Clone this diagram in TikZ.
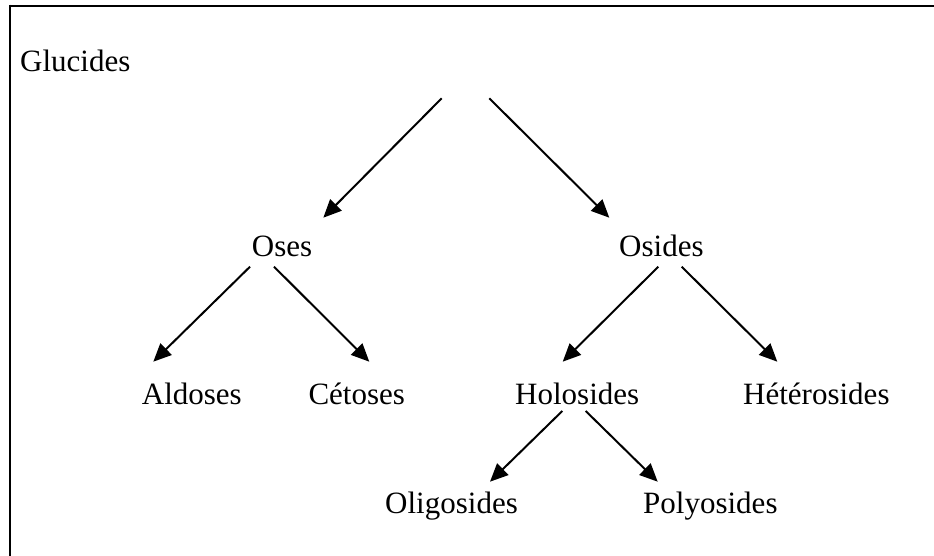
\documentclass[tikz,border=0pt]{standalone}
\usepackage{fontspec}
\setmainfont{Liberation Serif}
\usetikzlibrary{arrows.meta}
\begin{document}
\begin{tikzpicture}[x=1pt,y=-1pt,
  lbl/.style={anchor=base west,inner sep=0pt,font=\fontsize{31}{36}\selectfont},
  arr/.style={line width=2pt,-{Triangle[length=18pt,width=16pt]}},
  frameline/.style={line width=2.6pt}]
\useasboundingbox (0,0) rectangle (934,556);
\draw[frameline] (10,6) -- (934,6);
\draw[frameline] (10,4.7) -- (10,556);
\node[lbl] (glu) at (20,71.7) {Glucides};
\node[lbl] (oses) at (251.7,256.5) {Oses};
\node[lbl] (osides) at (619,256.5) {Osides};
\node[lbl] (ald) at (141.7,404) {Aldoses};
\node[lbl] (cet) at (308.3,404) {Cétoses};
\node[lbl] (holo) at (515,404) {Holosides};
\node[lbl] (hete) at (743,404) {Hétérosides};
\node[lbl] (oligo) at (385,513) {Oligosides};
\node[lbl] (poly) at (643,513) {Polyosides};
% connector ends
\coordinate (g1) at (441.7,98.3);
\coordinate (g2) at (489.3,98.3);
\coordinate (ta) at (323.3,217.7);
\coordinate (tb) at (609.3,217.7);
\coordinate (o1) at (250,266.7);
\coordinate (o2) at (274,266.7);
\coordinate (ea) at (153.3,361.7);
\coordinate (eb) at (369.3,361.7);
\coordinate (s1) at (658.3,266.7);
\coordinate (s2) at (681.7,266.7);
\coordinate (ec) at (562.7,361.7);
\coordinate (ed) at (777.3,361.7);
\coordinate (h1) at (562.3,411);
\coordinate (h2) at (585.7,411);
\coordinate (ee) at (490,481.7);
\coordinate (ef) at (657.7,481.7);
\draw[arr] (g1) -- (ta);
\draw[arr] (g2) -- (tb);
\draw[arr] (o1) -- (ea);
\draw[arr] (o2) -- (eb);
\draw[arr] (s1) -- (ec);
\draw[arr] (s2) -- (ed);
\draw[arr] (h1) -- (ee);
\draw[arr] (h2) -- (ef);
\end{tikzpicture}
\end{document}
